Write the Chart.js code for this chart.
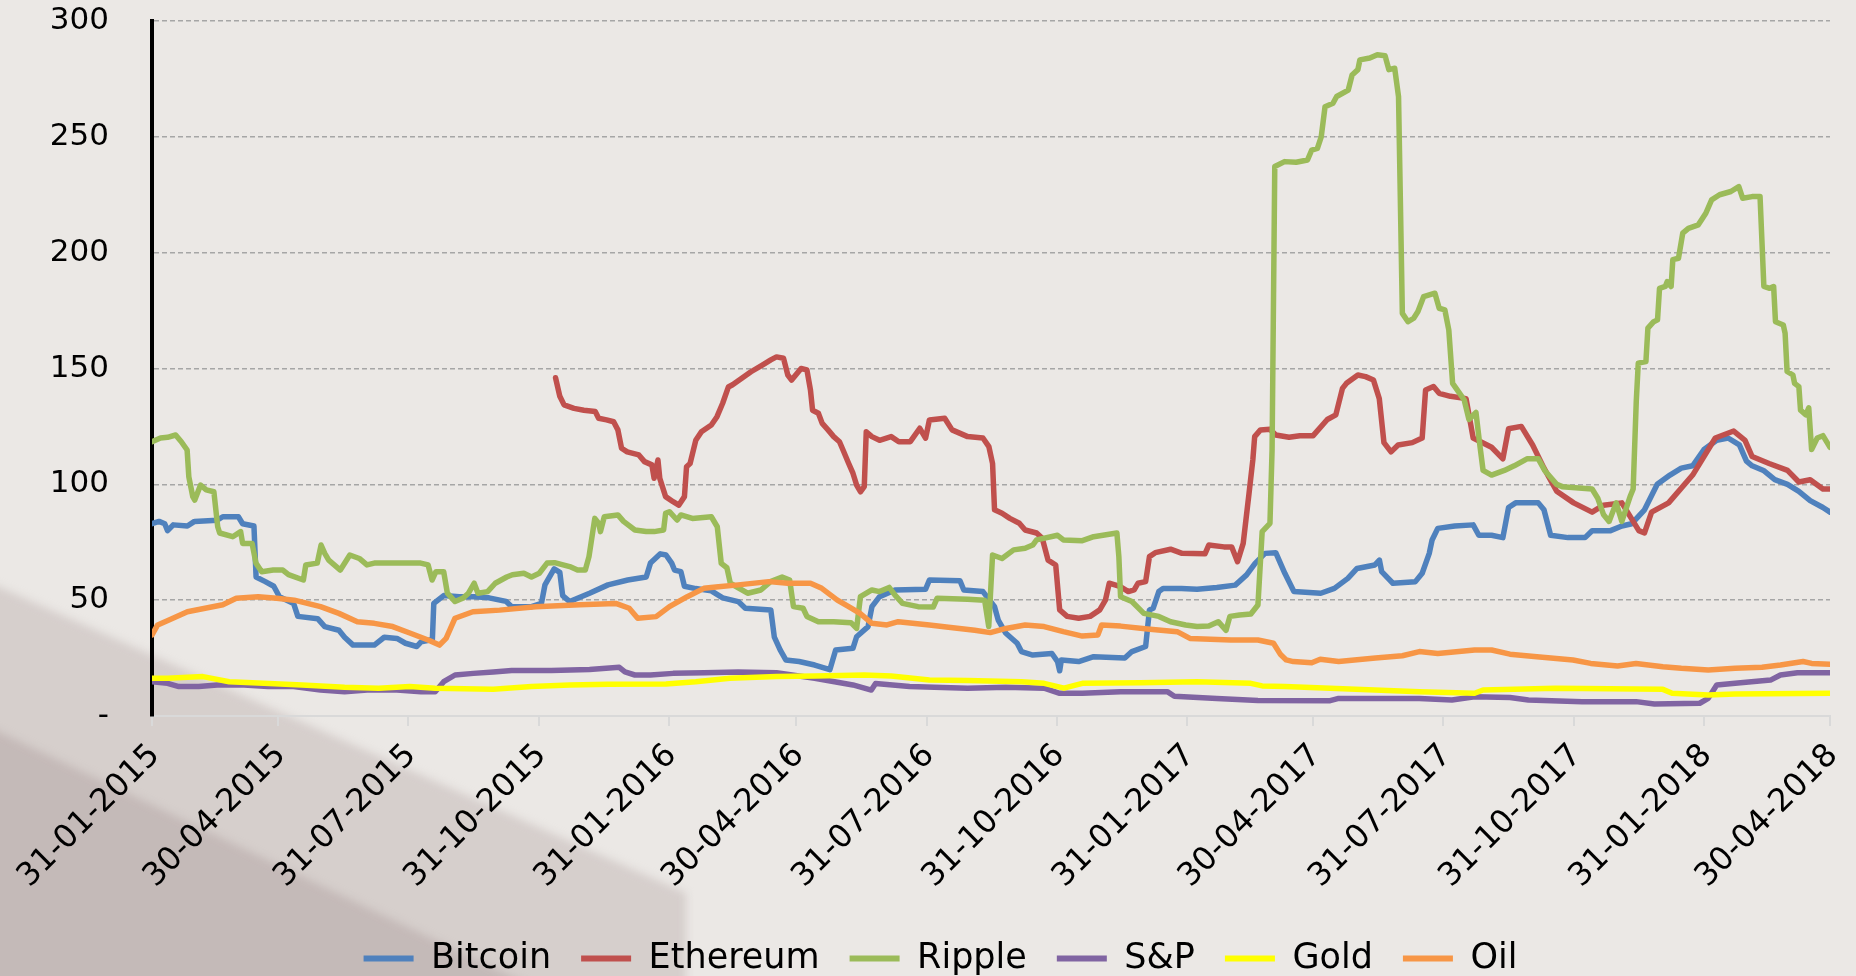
<!DOCTYPE html>
<html>
<head>
<meta charset="utf-8">
<script src="https://cdn.jsdelivr.net/npm/chart.js@4.4.1/dist/chart.umd.min.js"></script>
<style>
  html, body { margin: 0; padding: 0; background: #ebe8e5; }
  #wrap { width: 1856px; height: 976px; }
</style>
</head>
<body>
<div id="wrap"><canvas id="chart" width="1856" height="976"></canvas></div>
<script>
/* ---------- data: [day since 31-01-2015, value] ---------- */
const tickDays = [0, 89, 181, 273, 365, 455, 547, 639, 731, 820, 912, 1004, 1096, 1185];
const tickLabels = ['31-01-2015', '30-04-2015', '31-07-2015', '31-10-2015', '31-01-2016', '30-04-2016',
  '31-07-2016', '31-10-2016', '31-01-2017', '30-04-2017', '31-07-2017', '31-10-2017', '31-01-2018', '30-04-2018'];
const seriesNames = ['Bitcoin', 'Ethereum', 'Ripple', 'S&P', 'Gold', 'Oil'];
const seriesColors = ['#4f81bd', '#c0504d', '#9bbb59', '#8064a2', '#ffff00', '#f79646'];

const bitcoin = [[0,83],[5,84],[9,83],[11,80],[15,82.5],[25,82],[30,84],[46,84.5],[50,86],[61,86],[64,83],[72,82],
  [73.5,60],[80,58],[86,56],[90,51.5],[100,48.6],[103,43],[117,42],[122,38.6],[132,37],[136,34],[142,30.6],[157,30.6],
  [164,34],[173,33.5],[179,31.4],[187,30],[190,32],[198,33],[199,48.6],[206,52],[217,51.5],[228,51.5],[238,51],
  [250,49.5],[254,47.2],[268,47.2],[275,48.6],[277.5,56.6],[284,63.5],[288,62],[290,52],[295,49.4],[309,53],[322,56.6],
  [336,58.7],[349,60],[352,66],[359,70],[363,69.5],[367,66],[369,63],[373.5,62.3],[376,56],[384,55],[395,54],[403,51],
  [414,49.4],[419,46.5],[437,45.8],[439.5,34],[443.6,28.5],[447.6,24.2],[457,23.5],[468,22],[478.7,20],[482.8,28.5],
  [495,29.2],[497.6,34.2],[505.7,38.6],[508.4,47.2],[513.8,51.5],[524.7,54.4],[546.3,54.7],[549,58.7],[570.6,58.4],
  [573.3,54.4],[586.8,53.7],[595,47.2],[597.6,41.4],[603,35.7],[611,31.4],[614,27.8],[622,26.3],[635.5,27],[639.5,23.5],
  [641,19.5],[642.2,24.2],[654.4,23.5],[665,25.6],[687,25],[692,27.8],[701.7,30],[704.4,45.8],[707,46.5],[711,53.7],
  [714,55],[727,55],[738,54.7],[752,55.5],[765,56.5],[773,60.9],[779,65.9],[786,70.2],[793.6,70.5],[800,61.6],
  [806.4,53.7],[825.4,53],[835,55.1],[844.5,59.4],[851,63.7],[863.6,65.2],[866.8,67.3],[868.4,62.3],[876.3,57.3],
  [892.2,58],[897,61.6],[902,70.2],[904,76],[908,81],[920,82],[933,82.5],[937,78],[946,78],[954,77],[958,90],[963,92],
  [979,92],[983,89],[987.7,78],[1000,77],[1012,77],[1017,80],[1030,80],[1038,82],[1045,83],[1054,89],[1063,100],
  [1072,104],[1080,107],[1088,108],[1096,115],[1105,119],[1113,120],[1121,117],[1126,110],[1130,108],[1138,106],
  [1146,102],[1155,100],[1163,97],[1171,93],[1180,90],[1185,88]];

const ethereum = [[285,146],[288,138],[291,134.3],[298,132.8],[305,132],[313,131.4],[315.4,128.5],[321,127.8],[326,127],
  [329,123.5],[331.6,115.6],[335.6,114],[343.8,112.7],[347.8,109.8],[353,108.4],[354.6,102.6],[357.3,110.5],[358.6,102.6],
  [362.7,94.7],[368,92.5],[372,91],[376,94.7],[377.5,107.6],[380,109],[384,119],[388,122.7],[395,125.6],[399,129.2],
  [403,135],[407,142],[410,143],[416.5,145.8],[423,148.6],[431,151.5],[437,153.7],[441,155],[446,154.4],[449,147.2],
  [451.7,145],[458.4,150],[462.5,149.4],[465,140.7],[466.5,132],[470.6,130.7],[473.3,126.3],[477.4,123.5],[481.4,120.6],
  [485.5,118.4],[488,114.8],[492,109],[495,104.8],[497.6,99.7],[500.3,96.8],[503,99],[504.4,122.7],[508.4,120.6],
  [513.8,119],[522,120.6],[527.4,118.4],[535.5,118.4],[542.2,124.2],[546.3,119.9],[549,127.8],[559.8,128.5],[565,123.5],
  [576,120.6],[586.8,120],[591,116.3],[593.6,109],[595,89],[600.3,87.5],[605.8,85.3],[612.5,83.2],[616.6,80.3],[624.7,79],
  [628.7,76.7],[632.8,67.3],[638.2,65.2],[641,45.8],[646.3,43],[654.4,42.2],[662.5,43],[669.3,45.8],[673.3,50],[676,57.3],
  [680,56.6],[684,55.8],[689.5,53.7],[693.6,54.4],[696.3,57.3],[701.7,58],[704.4,68.8],[708.5,70.5],[719.3,72],
  [727.4,70.2],[743.6,70],[746.3,73.8],[757,73],[762.5,73],[766.6,66.6],[770.6,74.5],[774.7,96],[777.4,110.5],
  [778.7,120.6],[782.8,123.5],[789.5,123.8],[793.6,121.3],[803,120.3],[810.6,121],[820,121],[830,128],[836,130],
  [840.7,141.4],[843.5,143.6],[851.6,147.2],[857,146.5],[862.6,145],[866.7,137],[870,118],[875,114],[880,117],[890,118],
  [897,120],[899.4,140.7],[905,142.2],[909,139.3],[917,138],[928,137],[933,120],[946,116],[954,111],[958,124],[967,125],
  [975,117],[983,107],[992,97],[1004,92],[1017,88],[1025,91],[1038,92],[1042,88],[1050,80],[1054,79],[1059,88],
  [1071,92],[1088,104],[1096,112],[1104,120],[1117,123],[1125,119],[1130,112],[1142,109],[1155,106],[1163,101],
  [1171,102],[1180,98],[1185,98]];

const ripple = [[0,118.4],[6,120],[11,120.3],[16.7,121.3],[20.7,118.4],[24.8,114.8],[26,103.3],[28.8,94.7],[30.2,93.2],
  [34.3,99.7],[38.3,97.6],[43.7,96.8],[46.4,81.7],[47.8,79],[57,77.4],[62.6,79.6],[64,74.5],[70.7,74.5],[73.4,66],
  [77.5,62.3],[85.6,63],[92.4,63],[96.4,61],[106.9,58.7],[108.6,65.2],[116.7,66],[119.4,73.8],[122,70.2],[124.8,67.3],
  [133,63],[139.7,69.5],[146.4,68],[151.8,65.2],[157,66],[173.5,66],[189.7,66],[195,65.2],[197.8,58.7],[200.5,62.3],
  [206,62.3],[208.6,53],[214,49.4],[219.4,50.8],[223.5,53],[227.5,57.3],[230.2,53],[237,53.7],[242.4,57.3],[250.5,60],
  [254.5,61],[262.6,61.6],[268,60],[273.5,61.6],[279,66],[284.3,66.2],[295,64.5],[300.5,63],[306,63],[308.6,68.8],
  [312.7,85.3],[315.4,83.2],[316.7,79.6],[319.4,86],[329,86.8],[333,84],[341,80.3],[349,79.6],[354.6,79.6],[361.3,80.3],
  [362.7,87.5],[365.4,88.2],[370.8,84.6],[373.5,86.8],[381.6,85.3],[395,86],[399.2,81.7],[402,65.9],[406,64],[408.4,57.3],
  [420.6,53],[430,54.4],[436.8,58],[445,60],[450.3,58.7],[453,47.2],[459.8,46.5],[462.5,43],[470.6,40.7],[481.4,40.7],
  [493.6,40.3],[497.6,37.8],[500.3,51.5],[508.4,54.4],[513.8,53.7],[520.6,55.5],[524.7,52.2],[530,48.6],[541,47.2],
  [551.7,47],[554.4,50.8],[576,50.4],[588,50],[590.9,38.6],[593.6,69.5],[600.3,68],[608.5,71.7],[616.6,72.4],[622,73.8],
  [624.7,76],[639.5,78],[643.6,76],[657,75.7],[665,77.4],[681.4,79],[682.8,68.8],[684,51.5],[692,49.4],[700.4,44.3],
  [711,43],[719.3,40.7],[730,39.3],[738,38.6],[746.3,38.8],[753,40.7],[758.5,37],[761.2,43],[768,43.6],[776,44],
  [781,47.9],[784,79.6],[789.5,83.2],[791,115],[792.9,237.2],[799.8,239.3],[808,239],[816,240],[819,244.3],[823,245],
  [825.7,250],[828.4,263],[834,264.5],[836.6,267.4],[844.8,270.2],[847.5,276.7],[851.6,279],[853,283.2],[860,284],
  [865.3,285.4],[870.8,285],[873.5,279],[877.6,279.6],[880.3,267.4],[883,173.8],[887,170.2],[891,171.7],[894,174.6],
  [898,181],[906,182.5],[909,176],[913,175.3],[915.8,166.6],[918.5,143.6],[922.6,140],[926.7,136.4],[930,128],[935,131],
  [937.5,118],[940,106],[946,104],[955,106],[962,108],[971,111],[979,111],[983.5,106],[992,100],[996,99],[1017,98],
  [1021,94],[1025,87],[1029,84],[1034,92],[1038,84],[1044,95],[1046,98],[1048.2,136],[1049.6,152.3],[1055,153],
  [1056.4,167.4],[1060.5,170.2],[1063.2,171],[1064.6,184.6],[1068.7,185.4],[1070,187.5],[1072.8,185.4],[1074,197],
  [1078,197.6],[1081,208.4],[1085,210.5],[1092,212],[1097.3,217],[1101.4,222.8],[1107,225],[1115,226.4],[1120.6,228.5],
  [1123.3,223.5],[1130,224.2],[1135.6,224.2],[1138.3,185.4],[1142.4,184.6],[1145.2,185.4],[1146.5,170.2],[1152,168.8],
  [1153.3,165.2],[1154.7,148.7],[1158.8,147.2],[1160,143.6],[1163,142.2],[1164.2,132],[1168,130],[1170,133],[1172,115],
  [1176,120],[1180,121],[1183,118],[1185,116]];

const sp = [[0,14.8],[11,14.1],[19,12.7],[33,12.7],[46,13.4],[65,13.4],[82,12.7],[100,12.7],[119,11.2],[136,10.5],
  [152,11.2],[173,11.2],[190,10.5],[200,10.5],[206,14.8],[214,17.7],[227,18.4],[241,19],[254,19.6],[282,19.6],[309,20.1],
  [330,21],[334,19],[341,17.7],[352,17.7],[368,18.4],[390,18.7],[414,19],[441,18.7],[468,16.3],[495,13.4],[508,11.2],
  [511,14],[535,12.7],[576,12],[603,12.4],[630,12],[641,9.8],[657,9.8],[684,10.5],[717,10.5],[722,8.5],[752,7.6],
  [781,6.7],[832,6.6],[838,7.6],[895,7.6],[918,6.9],[934,8.3],[959,8],[972,6.9],[1010,6.2],[1048,6.2],[1061,5.2],
  [1093,5.5],[1099,7.6],[1105,13.4],[1118,14.1],[1143,15.5],[1150,17.7],[1162,18.7],[1185,18.7]];

const gold = [[0,16.3],[11,16.3],[36,17],[54.5,14.8],[79,14.1],[106,13.4],[136,12.4],[160,12],[182,12.7],[200,12],
  [241,11.5],[268,12.7],[295,13.4],[322,13.7],[363,13.8],[384,14.8],[408,16.3],[441,17],[468,17.3],[503,17.7],[522,17.3],
  [549,15.5],[576,15.3],[614,14.8],[630,14.1],[644,12],[657,14.1],[698,14.4],[738,14.8],[776,14.1],[784,13],[800,12.7],
  [832,12],[895,10.5],[934,9.8],[940,11.2],[991,12],[1067,11.5],[1073.5,9.8],[1099,9.1],[1118,9.5],[1185,9.8]];

const oil = [[0,35],[4,39.3],[12,41.4],[25,45],[50,48],[59.5,50.8],[75,51.5],[88,50.8],[100.5,50],[119,47.2],[132,44.3],
  [145,40.7],[157,40],[170,38.6],[182.5,35.7],[195,32.8],[203,30.6],[207.7,33.5],[214,42.2],[226.6,45],[245.5,45.7],
  [271,47.2],[302,48],[327.5,48.6],[337,46.5],[343,42.2],[356,42.9],[365.4,47.2],[378,51.5],[389.7,55.1],[400,55.8],
  [414,56.6],[435.5,58],[449,57.3],[465,57.3],[473,55.1],[484,50],[492,47.2],[500,44.3],[508.4,40],[519,39.3],[527,40.7],
  [549,39.3],[562.5,38.3],[581,37],[592,36],[603,37.8],[616.6,39.3],[630,38.6],[643.6,36.4],[657,34.5],[668,35],
  [670.6,39.3],[684,38.8],[703,37.6],[724,36.4],[733,33.5],[762,32.8],[781,32.8],[792,31.4],[797,26.5],[801,24.2],
  [806,23.5],[819,23],[825,24.5],[838,23.5],[864,25],[883,26],[895,27.8],[908,27],[934,28.5],[946,28.5],[959,26.7],
  [978,25.6],[1003.5,24.2],[1016,22.7],[1035,21.6],[1048,22.7],[1067,21.3],[1080,20.6],[1099,19.9],[1118,20.6],
  [1137,21],[1150,22],[1166,23.5],[1172,22.7],[1185,22.3]];

const seriesData = [bitcoin, ethereum, ripple, sp, gold, oil];

/* ---------- layout numbers ---------- */
const PAD_LEFT = 25, PAD_BOTTOM = -10, AREA_LEFT = 152, AREA_BOTTOM = 716, RIGHT_GAP = 26;
const FONT = "'DejaVu Sans', Verdana, sans-serif";

/* ---------- background shading (lower-left) ---------- */
const paperShade = {
  id: 'paperShade',
  beforeDraw(chart) {
    const ctx = chart.ctx;
    ctx.save();
    ctx.fillStyle = '#ebe8e5';
    ctx.fillRect(0, 0, chart.width, chart.height);
    ctx.filter = 'blur(4px)';
    ctx.fillStyle = 'rgba(196, 186, 184, 0.55)';
    ctx.beginPath();
    ctx.moveTo(-30, 574); ctx.lineTo(686, 893); ctx.lineTo(686, 1010); ctx.lineTo(-30, 1010);
    ctx.closePath(); ctx.fill();
    ctx.fillStyle = 'rgba(175, 160, 160, 0.45)';
    ctx.beginPath();
    ctx.moveTo(-30, 718); ctx.lineTo(540, 990); ctx.lineTo(-30, 990);
    ctx.closePath(); ctx.fill();
    ctx.restore();
  }
};

const datasets = seriesNames.map((name, i) => ({
  label: name,
  data: seriesData[i],
  borderColor: seriesColors[i],
  backgroundColor: seriesColors[i],
  borderWidth: 5.5,
  borderJoinStyle: 'round',
  borderCapStyle: 'round',
  pointRadius: 0,
  tension: 0,
  fill: false,
  order: seriesNames.length - i
}));

new Chart(document.getElementById('chart'), {
  type: 'line',
  data: { datasets },
  plugins: [paperShade],
  options: {
    responsive: false,
    devicePixelRatio: 1,
    animation: false,
    layout: { padding: { left: PAD_LEFT, right: 0, top: 21, bottom: PAD_BOTTOM } },
    plugins: {
      tooltip: { enabled: false },
      legend: {
        position: 'bottom',
        reverse: true,
        labels: {
          usePointStyle: true,
          pointStyle: 'line',
          pointStyleWidth: 50,
          padding: 30,
          color: '#000',
          font: { family: FONT, size: 35 },
          generateLabels: (chart) => Chart.defaults.plugins.legend.labels.generateLabels(chart)
            .map(l => Object.assign(l, { lineWidth: 6 }))
        }
      }
    },
    scales: {
      x: {
        type: 'linear',
        min: 0,
        max: 1185,
        afterBuildTicks: (axis) => { axis.ticks = tickDays.map(v => ({ value: v })); },
        afterFit: (scale) => {
          const legendH = scale.chart.legend ? scale.chart.legend.height : 75;
          scale.height = scale.chart.height - PAD_BOTTOM - legendH - AREA_BOTTOM;
          scale.paddingRight = 0;
        },
        ticks: {
          autoSkip: false,
          minRotation: 45,
          maxRotation: 45,
          padding: 11,
          labelOffset: 3,
          color: '#000',
          font: { family: FONT, size: 32 },
          callback: (v) => tickLabels[tickDays.indexOf(v)]
        },
        grid: { drawOnChartArea: false, drawTicks: true, tickLength: 10, color: '#d9d9d9', lineWidth: 2 },
        border: { color: '#d9d9d9', width: 2 }
      },
      y: {
        min: 0,
        max: 300,
        afterFit: (scale) => { scale.width = AREA_LEFT - PAD_LEFT; },
        ticks: {
          stepSize: 50,
          padding: 0,
          color: '#000',
          font: { family: FONT, size: 31 },
          callback: (v) => v === 0 ? '-' : v
        },
        grid: {
          drawTicks: true,
          tickLength: 43,
          tickColor: 'rgba(0,0,0,0)',
          color: (c) => c.tick && c.tick.value === 0 ? 'rgba(0,0,0,0)' : '#a6a6a6',
          lineWidth: 1.5
        },
        border: { color: '#000', width: 4, dash: [5, 3] }
      },
      yRight: {
        position: 'right',
        display: true,
        afterFit: (scale) => { scale.width = RIGHT_GAP; },
        ticks: { display: false },
        grid: { display: false },
        border: { display: false }
      }
    }
  }
});
</script>
</body>
</html>
